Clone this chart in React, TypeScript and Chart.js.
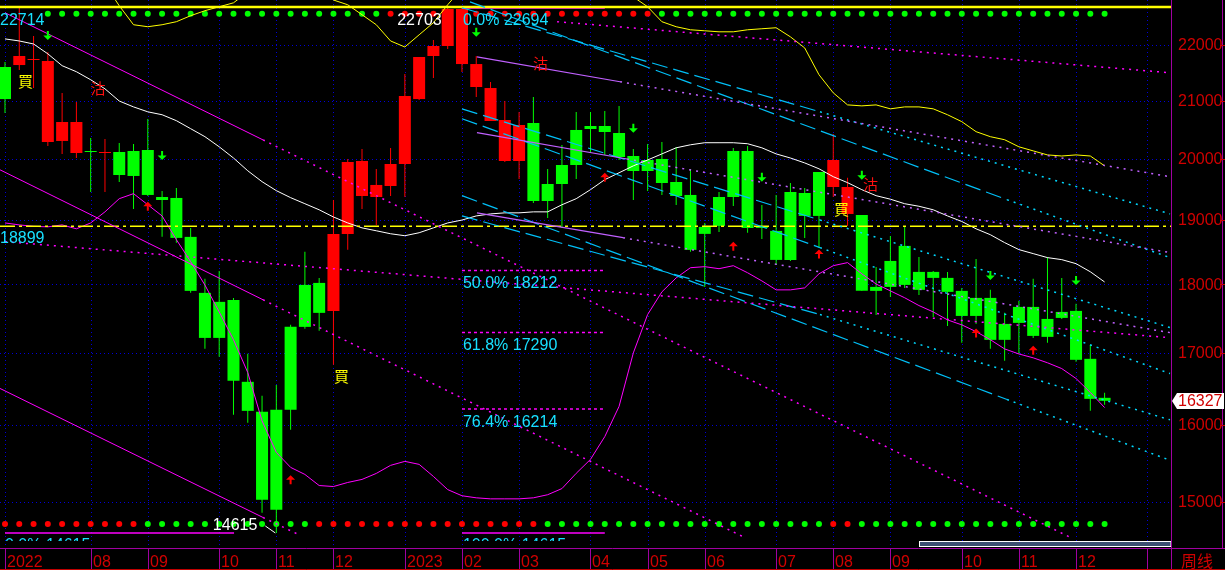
import React, { useEffect, useRef } from 'react';
import { Chart, registerables } from 'chart.js';

Chart.register(...registerables);

// ---- axis ranges (weekly index on x, log price on y) ----
const X_MIN = -0.35;
const X_MAX = 81.65;
const Y_MIN = 14432;
const Y_MAX = 22846;

const monthTicks = [0, 6, 10, 15, 19, 23, 28, 32, 36, 41, 45, 49, 54, 58, 62, 67, 71, 75, 80];
const monthLabels = ['2022', '08', '09', '10', '11', '12', '2023', '02', '03', '04', '05', '06', '07', '08', '09', '10', '11', '12', ''];
const priceTicks = [15000, 16000, 17000, 18000, 19000, 20000, 21000, 22000];

// ---- weekly candles ----
const opens = [
  21026, 21634, 21743, 21707, 20300, 20625, 20130, 20096, 20113, 19713,
  20147, 19369, 19353, 18732, 17873, 17211, 17768, 16589, 16177, 14902,
  16204, 17371, 18023, 17605, 18779, 19962, 19369, 19548, 19912, 21026,
  21798, 21982, 22674, 21652, 21221, 20660, 19962, 20608, 19304, 19581,
  19895, 20505, 20556, 20436, 20046, 19795, 19996, 19614, 19402, 18779,
  18905, 19369, 20130, 18873, 18826, 18374, 19434, 19064, 19979, 19532,
  19080, 17903, 17963, 18591, 17918, 18190, 18099, 17903, 17531, 17798,
  17183, 17429, 17664, 17226, 17502, 17605, 16912, 16368,
];
const highs = [
  21689, 22714, 22167, 21871, 21133, 20974, 20351, 20334, 20266, 20249,
  20677, 19467, 19516, 18873, 18084, 18205, 17798, 16983, 16396, 16546,
  17400, 18498, 18099, 19320, 19996, 20164, 19829, 20181, 21472, 21780,
  22092, 22703, 22694, 21798, 21328, 20991, 20799, 21062, 19829, 20232,
  20799, 20799, 20817, 20904, 20164, 20249, 20283, 20198, 19829, 18952,
  19450, 20181, 20215, 19240, 19402, 19597, 19516, 19779, 20418, 19683,
  19080, 18266, 18747, 18905, 18420, 18205, 18190, 17948, 18389, 17918,
  17576, 17754, 18084, 18420, 18099, 17709, 17109, 16437,
];
const lows = [
  20782, 21544, 21221, 20215, 20080, 20012, 19450, 19450, 19614, 19176,
  19385, 18732, 18638, 17873, 17054, 16940, 16136, 16029, 14864, 14615,
  15935, 17342, 17313, 16827, 18529, 19176, 18920, 19385, 19369, 21009,
  21400, 21926, 21508, 21062, 20643, 19945, 19663, 19272, 19032, 18873,
  19663, 20096, 20063, 19979, 19320, 19467, 19402, 19240, 18498, 17963,
  18810, 19224, 18795, 18700, 18297, 18358, 18716, 18560, 19369, 18905,
  17903, 17546, 17813, 17948, 17843, 17517, 17385, 17140, 17414, 17054,
  16884, 16983, 17211, 17140, 17487, 16870, 16190, 16272,
];
const closes = [
  21598, 21798, 21725, 20283, 20625, 20096, 20113, 20113, 19729, 20130,
  19402, 19320, 18716, 17903, 17211, 17739, 16603, 16190, 15027, 16204,
  17371, 17993, 17576, 18779, 19945, 19385, 19565, 19912, 21080, 21780,
  21982, 22674, 21652, 21239, 20643, 19962, 20574, 19304, 19581, 19895,
  20488, 20556, 20453, 20029, 19795, 19979, 19597, 19385, 18529, 18889,
  19369, 20130, 18873, 18889, 18374, 19450, 19064, 19779, 19532, 19095,
  17903, 17963, 18358, 17993, 18190, 18099, 17888, 17531, 17798, 17183,
  17414, 17664, 17240, 17487, 17590, 16898, 16354, 16327,
];
// trend colouring of each candle: r = red, g = green
const candleTone = [
  'g', 'r', 'r', 'r', 'r', 'r', 'g', 'r', 'g', 'g',
  'g', 'g', 'g', 'g', 'g', 'g', 'g', 'g', 'g', 'g',
  'g', 'g', 'g', 'r', 'r', 'r', 'r', 'r', 'r', 'r',
  'r', 'r', 'r', 'r', 'r', 'r', 'r', 'g', 'g', 'g',
  'g', 'g', 'g', 'g', 'g', 'g', 'g', 'g', 'g', 'g',
  'g', 'g', 'g', 'g', 'g', 'g', 'g', 'g', 'r', 'r',
  'g', 'g', 'g', 'g', 'g', 'g', 'g', 'g', 'g', 'g',
  'g', 'g', 'g', 'g', 'g', 'g', 'g', 'g',
];

// ---- signal dot rows ('-' = no dot) ----
const topDotTone = [
  '-', '-', '-', 'g', 'g', 'g', 'g', 'g', 'g', 'g',
  'g', 'g', 'g', 'g', 'g', 'g', 'g', 'g', 'g', 'g',
  'g', 'g', 'g', 'g', 'g', 'g', 'g', 'r', 'r', 'r',
  'r', 'r', 'r', 'r', 'r', 'r', 'r', 'r', 'r', 'r',
  'r', 'r', 'r', 'r', 'r', 'r', 'g', 'g', 'g', 'g',
  'g', 'g', 'g', 'g', 'g', 'g', 'g', 'g', 'g', 'g',
  'g', 'g', 'g', 'g', 'g', 'g', 'g', 'g', 'g', 'g',
  'g', 'g', 'g', 'g', 'g', 'g', 'g', 'g',
];
const bottomDotTone = [
  'r', 'r', 'r', 'r', 'r', 'r', 'r', 'r', 'r', 'r',
  'g', 'g', 'g', 'g', 'g', 'g', 'g', 'g', 'g', 'g',
  'g', 'g', 'r', 'r', 'r', 'r', 'r', 'r', 'r', 'r',
  'r', 'r', 'r', 'r', 'r', 'r', 'r', 'r', 'g', 'g',
  'g', 'g', 'g', 'g', 'g', 'g', 'g', 'g', 'g', 'g',
  'g', 'g', 'g', 'g', 'g', 'g', 'g', 'g', 'r', 'r',
  'g', 'g', 'g', 'g', 'g', 'g', 'g', 'g', 'g', 'g',
  'g', 'g', 'g', 'g', 'g', 'g', 'g', 'g',
];
const topDotLevel = 22585;
const bottomDotLevel = 14725;

// ---- bands ----
const upperBand = [
  24600, 24450, 24300, 24100, 23900, 23700, 23450, 23150, 22736, 22377,
  22340, 22377, 22434, 22547, 22642, 22717, 22792, 23000, 23250, 23450,
  23500, 23400, 23100, 22846, 22755, 22566, 22377, 22075, 21964, 22189,
  22415, 22755, 23076, 23500, 23800, 23950, 23900, 23800, 23650, 23500,
  23400, 23300, 23150, 22950, 22905, 22717, 22434, 22340, 22283, 22264,
  22245, 22245, 22283, 22302, 22321, 22151, 21946, 21459, 21135, 20923,
  20906, 20923, 20854, 20888, 20888, 20854, 20751, 20631, 20459, 20373,
  20321, 20201, 20132, 20064, 20046, 20064, 20046, 19881,
];
const midBand = [
  22113, 22075, 22019, 21838, 21622, 21513, 21369, 21207, 20991, 20888,
  20802, 20751, 20648, 20510, 20373, 20201, 20012, 19799, 19619, 19472,
  19358, 19260, 19162, 19047, 18952, 18874, 18828, 18781, 18750, 18797,
  18874, 18952, 18998, 19064, 19096, 19113, 19113, 19129, 19129, 19243,
  19341, 19488, 19652, 19766, 19881, 19979, 20081, 20184, 20235, 20270,
  20270, 20270, 20253, 20184, 20081, 20012, 19930, 19832, 19701, 19603,
  19488, 19390, 19333, 19260, 19219, 19162, 19064, 18975, 18859, 18766,
  18642, 18533, 18471, 18409, 18378, 18316, 18192, 18037,
];
const lowerBand = [
  18952, 18921, 18898, 18890, 18921, 18859, 18952, 19129, 19341, 19423,
  19243, 19064, 18689, 18347, 17991, 17590, 17185, 16718, 16055, 15636,
  15441, 15350, 15208, 15195, 15247, 15286, 15363, 15467, 15519, 15480,
  15324, 15156, 15078, 15052, 15039, 15039, 15039, 15052, 15091, 15169,
  15364, 15545, 15844, 16250, 16996, 17551, 17888, 18099, 18254, 18270,
  18239, 18285, 18177, 18053, 17918, 17918, 17948, 18161, 18285, 18332,
  18161, 18006, 17903, 17800, 17684, 17590, 17473, 17400, 17302, 17185,
  17053, 16981, 16926, 16856, 16774, 16635, 16442, 16235,
];

// ---- drawn trend lines: [fromIndex, fromPrice, toIndex, toPrice] ----
const channelSolid = [
  [0, 22604, 18.07, 20318],
  [-0.35, 19815, 18.07, 17770],
  [-0.35, 16497, 18.07, 14806],
];
const channelDotted = [
  [18.07, 20318, 74.58, 14563],
  [18.07, 17770, 51.75, 14563],
  [18.07, 14806, 20.66, 14587],
];
const fallSolid = [
  [33.05, 21784, 43.07, 21333],
  [33.05, 20442, 43.56, 19995],
  [33.05, 19113, 43.28, 18719],
];
const fallDotted = [
  [43.07, 21333, 81.58, 19701],
  [43.56, 19995, 81.58, 18487],
  [43.28, 18719, 81.58, 17287],
];
const pinkDotted = [
  [38.66, 22434, 81.58, 21495],
  [0, 18657, 81.58, 17214],
];
const cyanDashed = [
  [32, 22698, 57.07, 20802],
  [32.56, 22811, 70.17, 19325],
  [32, 20854, 57.07, 18998],
  [32, 20682, 57.07, 18564],
  [32, 19391, 70.17, 16345],
  [32, 19064, 57.07, 17551],
];
const cyanDotted = [
  [57.07, 20802, 81.58, 19096],
  [70.17, 19325, 81.58, 18409],
  [57.07, 18998, 81.58, 17361],
  [57.07, 18564, 81.58, 16704],
  [70.17, 16345, 81.58, 15533],
  [57.07, 17551, 81.58, 16069],
];

// ---- reference levels ----
const rangeHigh = 22714;
const pivotLevel = 18899;
const fibLevels = [22694, 18212, 17290, 16214, 14615];
const fibNames = ['0.0%', '50.0%', '61.8%', '76.4%', '100.0%'];
const fibFrom = 32;
const fibTo = 42;
const lowFibTo = 16.04;
const swingHigh = 22703;
const swingLow = 14615;

// ---- signal markers ----
const arrowMarks = [
  [3, 22094, 'down'], [11, 19979, 'down'], [10, 19292, 'up'], [20, 15338, 'up'],
  [33, 22151, 'down'], [42, 19766, 'up'], [44, 20442, 'down'], [51, 18657, 'up'],
  [53, 19619, 'down'], [57, 18533, 'up'], [60, 19652, 'down'], [68, 17346, 'up'],
  [69, 18068, 'down'], [72, 17097, 'up'], [75, 17991, 'down'],
];
const wordMarks = [
  ['買', 1.44, 21342], ['沽', 6.51, 21216], ['沽', 37.5, 21667],
  ['買', 23.56, 16670], ['買', 58.58, 19178], ['沽', 60.6, 19578],
];

const RED = '#ff0000';
const GREEN = '#00ff00';
const CYAN_TEXT = '#18e0ff';
const AXIS_RED = '#d00000';
const PURPLE = '#a000a0';
const NUM_FONT = "16px 'Liberation Sans', Arial, sans-serif";
const CJK_FONT = "15px 'Noto Sans CJK TC', 'Noto Sans CJK SC', sans-serif";

const tone = (t: string) => (t === 'r' ? RED : GREEN);

function lineSet(points: number[][], color: string, width: number, dash: number[] = [], order = 2) {
  return {
    type: 'line',
    data: points.map(([x, y]) => ({ x, y })),
    borderColor: color,
    borderWidth: width,
    borderDash: dash,
    pointRadius: 0,
    tension: 0,
    fill: false,
    order,
  };
}
const seg = (s: number[], color: string, width: number, dash: number[] = []) =>
  lineSet([[s[0], s[1]], [s[2], s[3]]], color, width, dash);

const band = (vals: number[], color: string) =>
  lineSet(vals.map((v, i) => [i, v]), color, 1, [], 3);

function dotRow(tones: string[], level: number) {
  const pts: any[] = [];
  const cols: string[] = [];
  tones.forEach((t, i) => {
    if (t === '-') return;
    pts.push({ x: i, y: level });
    cols.push(tone(t));
  });
  return {
    type: 'line',
    showLine: false,
    data: pts,
    pointRadius: 3,
    pointBorderWidth: 0,
    pointBackgroundColor: cols,
    pointBorderColor: cols,
    order: 10,
  };
}

function buildDatasets() {
  const idx = closes.map((_, i) => i);
  const sets: any[] = [];
  sets.push(dotRow(topDotTone, topDotLevel));
  sets.push(dotRow(bottomDotTone, bottomDotLevel));
  sets.push({
    type: 'bar',
    data: idx.map((i) => ({ x: i, y: [lows[i], highs[i]] })),
    backgroundColor: candleTone.map(tone),
    barThickness: 1,
    grouped: false,
    inflateAmount: 0,
    order: 6,
  });
  sets.push({
    type: 'bar',
    data: idx.map((i) => ({ x: i, y: [opens[i], closes[i]] })),
    backgroundColor: candleTone.map(tone),
    barThickness: 12,
    minBarLength: 1,
    grouped: false,
    inflateAmount: 0,
    order: 5,
  });
  sets.push(band(upperBand, '#ffff00'));
  sets.push(band(midBand, '#ffffff'));
  sets.push(band(lowerBand, '#ff00ff'));

  channelSolid.forEach((s) => sets.push(seg(s, '#ff00ff', 1)));
  channelDotted.forEach((s) => sets.push(seg(s, '#ff00ff', 1.5, [2, 5])));
  fallSolid.forEach((s) => sets.push(seg(s, '#c060ff', 1.2)));
  fallDotted.forEach((s) => sets.push(seg(s, '#c060ff', 1.5, [2, 5])));
  pinkDotted.forEach((s) => sets.push(seg(s, '#ff00ff', 1.5, [2, 5])));
  cyanDashed.forEach((s) => sets.push(seg(s, '#00c0f8', 1.2, [16, 6])));
  cyanDotted.forEach((s) => sets.push(seg(s, '#00d8ff', 1.5, [2, 5])));

  sets.push(seg([X_MIN, rangeHigh, X_MAX, rangeHigh], '#ffff00', 2.5));
  sets.push(seg([X_MIN, pivotLevel, X_MAX, pivotLevel], '#ffff00', 1.5, [15, 4, 3, 4]));
  fibLevels.forEach((lv, k) => {
    const solid = k === 0 || k === fibLevels.length - 1;
    sets.push(seg([fibFrom, lv, fibTo, lv], '#ff00ff', 1.5, solid ? [] : [3, 3]));
  });
  sets.push(seg([0, swingLow, lowFibTo, swingLow], '#ff00ff', 1.5));
  return sets;
}

function drawArrow(ctx: CanvasRenderingContext2D, x: number, y: number, dir: string, color: string) {
  const s = dir === 'up' ? 1 : -1;
  ctx.fillStyle = color;
  ctx.beginPath();
  ctx.moveTo(x, y);
  ctx.lineTo(x + 4.5, y + s * 4.5);
  ctx.lineTo(x + 1, y + s * 4.5);
  ctx.lineTo(x + 1, y + s * 9);
  ctx.lineTo(x - 1, y + s * 9);
  ctx.lineTo(x - 1, y + s * 4.5);
  ctx.lineTo(x - 4.5, y + s * 4.5);
  ctx.closePath();
  ctx.fill();
}

const backdrop = {
  id: 'backdrop',
  beforeDraw(chart: any) {
    const { ctx, width, height } = chart;
    ctx.save();
    ctx.fillStyle = '#000000';
    ctx.fillRect(0, 0, width, height);
    ctx.restore();
  },
};

const dottedGrid = {
  id: 'dottedGrid',
  beforeDatasetsDraw(chart: any) {
    const { ctx, chartArea: a, scales } = chart;
    const { x, y } = scales;
    ctx.save();
    ctx.strokeStyle = '#0000d8';
    ctx.lineWidth = 1;
    ctx.setLineDash([1, 3]);
    ctx.beginPath();
    priceTicks.forEach((v) => {
      const py = Math.round(y.getPixelForValue(v)) + 0.5;
      ctx.moveTo(a.left, py);
      ctx.lineTo(a.right, py);
    });
    monthTicks.forEach((t) => {
      const px = Math.round(x.getPixelForValue(t)) + 0.5;
      ctx.moveTo(px, a.top);
      ctx.lineTo(px, a.bottom);
    });
    ctx.stroke();
    ctx.restore();
  },
};

const annotations = {
  id: 'annotations',
  afterDatasetsDraw(chart: any) {
    const { ctx, chartArea: a, scales } = chart;
    const { x, y } = scales;
    const X = (i: number) => x.getPixelForValue(i);
    const Y = (v: number) => y.getPixelForValue(v);
    ctx.save();
    ctx.beginPath();
    ctx.rect(a.left, a.top, a.right - a.left, a.bottom - a.top);
    ctx.clip();

    ctx.font = NUM_FONT;
    ctx.textBaseline = 'alphabetic';
    ctx.textAlign = 'left';
    ctx.fillStyle = CYAN_TEXT;
    fibLevels.forEach((lv, k) => {
      if (k === fibLevels.length - 1) return;
      ctx.fillText(`${fibNames[k]} ${lv}`, X(fibFrom) + 1, Y(lv) + 17.5);
    });
    ctx.fillText(String(rangeHigh), X(X_MIN), Y(rangeHigh) + 17.7);
    ctx.fillText(String(pivotLevel), X(X_MIN), Y(pivotLevel) + 16.8);

    // the two lowest retracement labels run under the scroll strip
    ctx.save();
    ctx.beginPath();
    ctx.rect(a.left, a.top, a.right - a.left, 541 - a.top);
    ctx.clip();
    ctx.fillText(`${fibNames[fibNames.length - 1]} ${swingLow}`, X(fibFrom) + 1, Y(swingLow) + 17.5);
    ctx.fillText(`0.0% ${swingLow}`, X(0), Y(swingLow) + 17.5);
    ctx.restore();

    ctx.fillStyle = '#ffffff';
    ctx.textAlign = 'right';
    ctx.fillText(String(swingHigh), X(31) - 6, Y(swingHigh) + 17.6);
    ctx.fillText(String(swingLow), X(19) - 19, Y(swingLow) - 3);
    ctx.strokeStyle = '#ffffff';
    ctx.lineWidth = 1;
    ctx.beginPath();
    ctx.moveTo(X(19) - 11, Y(swingLow) - 7);
    ctx.lineTo(X(19) - 1, Y(swingLow));
    ctx.stroke();

    ctx.font = CJK_FONT;
    ctx.textAlign = 'center';
    ctx.textBaseline = 'middle';
    wordMarks.forEach(([w, i, v]) => {
      ctx.fillStyle = w === '買' ? '#ffff00' : '#ff1010';
      ctx.fillText(w as string, X(i as number), Y(v as number));
    });

    arrowMarks.forEach(([i, v, d]) => {
      drawArrow(ctx, X(i as number), Y(v as number), d as string, d === 'up' ? RED : GREEN);
    });
    ctx.restore();
  },
};

const frame = {
  id: 'frame',
  afterDraw(chart: any) {
    const { ctx, chartArea: a, scales, width, height } = chart;
    const { x, y } = scales;
    ctx.save();

    // scroll strip
    ctx.fillStyle = '#3c5072';
    ctx.fillRect(919.5, 541.5, a.right - 919.5, 5);
    ctx.strokeStyle = '#ffffff';
    ctx.lineWidth = 1;
    ctx.strokeRect(919.5, 541.5, a.right - 919.5, 5);

    // axis lines
    ctx.strokeStyle = PURPLE;
    ctx.beginPath();
    ctx.moveTo(0, a.bottom + 0.5);
    ctx.lineTo(width, a.bottom + 0.5);
    ctx.moveTo(a.right + 0.5, 0);
    ctx.lineTo(a.right + 0.5, height);
    ctx.moveTo(width - 2.5, 0);
    ctx.lineTo(width - 2.5, a.bottom);
    monthTicks.forEach((t) => {
      const px = Math.round(x.getPixelForValue(t)) + 0.5;
      ctx.moveTo(px, a.bottom);
      ctx.lineTo(px, height);
    });
    ctx.stroke();

    ctx.strokeStyle = '#c00000';
    ctx.beginPath();
    ctx.moveTo(0, height - 0.5);
    ctx.lineTo(width, height - 0.5);
    priceTicks.forEach((v) => {
      const py = Math.round(y.getPixelForValue(v)) + 0.5;
      ctx.moveTo(width - 5, py);
      ctx.lineTo(width, py);
    });
    ctx.stroke();

    // price labels
    ctx.font = NUM_FONT;
    ctx.fillStyle = AXIS_RED;
    ctx.textAlign = 'left';
    ctx.textBaseline = 'middle';
    priceTicks.forEach((v) => {
      ctx.fillText(String(v), a.right + 7, y.getPixelForValue(v) + 1);
    });

    // month labels
    ctx.textBaseline = 'alphabetic';
    monthTicks.forEach((t, k) => {
      if (!monthLabels[k]) return;
      const px = Math.round(x.getPixelForValue(t));
      ctx.fillText(monthLabels[k], px + 2, height - 3);
    });
    ctx.font = "16px 'Noto Sans CJK SC', sans-serif";
    ctx.fillText('周线', a.right + 10, height - 3);

    // last price tag
    const last = closes[closes.length - 1];
    const ly = Math.round(y.getPixelForValue(last));
    ctx.fillStyle = '#ffffff';
    ctx.beginPath();
    ctx.moveTo(a.right + 1, ly);
    ctx.lineTo(a.right + 6, ly - 8);
    ctx.lineTo(width - 1, ly - 8);
    ctx.lineTo(width - 1, ly + 8);
    ctx.lineTo(a.right + 6, ly + 8);
    ctx.closePath();
    ctx.fill();
    ctx.font = NUM_FONT;
    ctx.fillStyle = AXIS_RED;
    ctx.textBaseline = 'middle';
    ctx.fillText(String(last), a.right + 7, ly + 1);

    ctx.restore();
  },
};

export default function App() {
  const ref = useRef<HTMLCanvasElement>(null);

  useEffect(() => {
    document.body.style.margin = '0';
    document.body.style.background = '#000';
    const canvas = ref.current;
    if (!canvas) return;
    const chart = new Chart(canvas, {
      type: 'bar',
      data: { datasets: buildDatasets() } as any,
      options: {
        responsive: false,
        animation: false,
        devicePixelRatio: 1,
        events: [],
        layout: { autoPadding: false, padding: { left: 0, top: 0, right: 54, bottom: 22 } },
        plugins: { legend: { display: false }, tooltip: { enabled: false } },
        scales: {
          x: { type: 'linear', min: X_MIN, max: X_MAX, display: false, offset: false },
          y: {
            type: 'logarithmic',
            min: Y_MIN,
            max: Y_MAX,
            display: false,
            afterBuildTicks: (s: any) => {
              s.ticks = priceTicks.map((v) => ({ value: v }));
            },
          },
        },
      } as any,
      plugins: [backdrop, dottedGrid, annotations, frame],
    });
    return () => chart.destroy();
  }, []);

  return (
    <canvas
      ref={ref}
      width={1225}
      height={570}
      style={{ display: 'block', width: 1225, height: 570 }}
    />
  );
}
